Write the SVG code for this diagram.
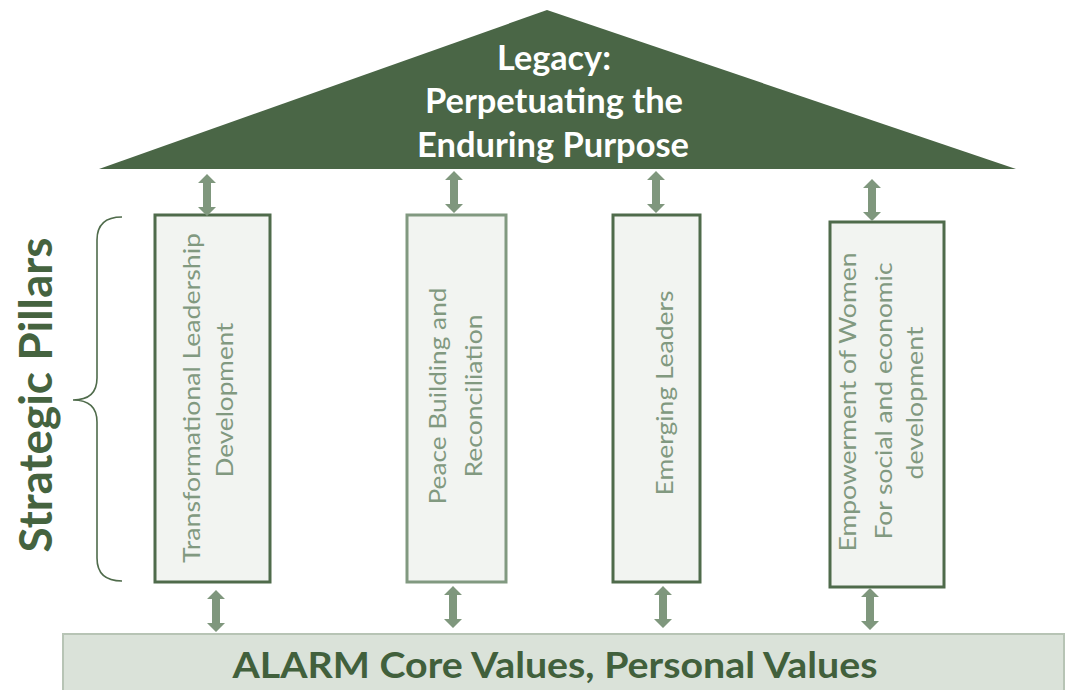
<svg xmlns="http://www.w3.org/2000/svg" width="1072" height="690" viewBox="0 0 1072 690">
  <style>
    .roof { fill: #4a6646; }
    .roof-text { font-family: Lato, "Open Sans", sans-serif; font-weight: bold; font-size: 35px; fill: #ffffff; text-anchor: middle; }
    .pillar { fill: #f2f4f1; stroke-width: 3; }
    .dark { stroke: #4f6b4b; }
    .light { stroke: #819980; }
    .pillar-text { font-family: Lato, "Open Sans", sans-serif; font-size: 24px; fill: #819980; text-anchor: middle; }
    .base { fill: #dae2d9; stroke: #b7c4b5; stroke-width: 2; }
    .base-text { font-family: Lato, "Open Sans", sans-serif; font-weight: bold; font-size: 37px; fill: #41603c; text-anchor: middle; }
    .side-text { font-family: Lato, "Open Sans", sans-serif; font-weight: bold; font-size: 45px; fill: #45633f; text-anchor: middle; }
    .brace { fill: none; stroke: #4f6b4b; stroke-width: 1.6; }
    .arrow { fill: #7f977d; }
  </style>
  <defs>
    <!-- two-headed vertical arrow, 42 px long, centred on x = 0 -->
    <path id="dbl" d="M0,0 L9,9 L4,9 L4,33 L9,33 L0,42 L-9,33 L-4,33 L-4,9 L-9,9 Z"/>
  </defs>

  <rect width="1072" height="690" fill="#ffffff"/>

  <!-- roof -->
  <g id="legacy">
    <polygon class="roof" points="547,10 1016,169 99,169"/>
    <text class="roof-text" x="554" y="70" textLength="114" lengthAdjust="spacingAndGlyphs">Legacy:</text>
    <text class="roof-text" x="554" y="113" textLength="258" lengthAdjust="spacingAndGlyphs">Perpetuating the</text>
    <text class="roof-text" x="553" y="157" textLength="272" lengthAdjust="spacingAndGlyphs">Enduring Purpose</text>
  </g>

  <!-- side label with brace -->
  <g id="strategic-pillars">
    <text class="side-text" x="52" y="395" transform="rotate(-90 52 395)" textLength="315" lengthAdjust="spacingAndGlyphs">Strategic Pillars</text>
    <path class="brace" d="M122,217 Q97,217 97,240 L97,378 Q97,400 73,400 Q97,400 97,422 L97,558 Q97,581 122,581"/>
  </g>

  <!-- pillars -->
  <g id="pillar-leadership">
    <rect class="pillar dark" x="155" y="215" width="115" height="367"/>
    <text class="pillar-text" x="200" y="398" transform="rotate(-90 200 398)" textLength="330" lengthAdjust="spacingAndGlyphs">Transformational Leadership</text>
    <text class="pillar-text" x="233" y="400" transform="rotate(-90 233 400)" textLength="155" lengthAdjust="spacingAndGlyphs">Development</text>
  </g>

  <g id="pillar-peace">
    <rect class="pillar light" x="407" y="215" width="99" height="367"/>
    <text class="pillar-text" x="446" y="396" transform="rotate(-90 446 396)" textLength="217" lengthAdjust="spacingAndGlyphs">Peace Building and</text>
    <text class="pillar-text" x="482" y="396" transform="rotate(-90 482 396)" textLength="163" lengthAdjust="spacingAndGlyphs">Reconciliation</text>
  </g>

  <g id="pillar-emerging">
    <rect class="pillar dark" x="613" y="215" width="87" height="367"/>
    <text class="pillar-text" x="673" y="393" transform="rotate(-90 673 393)" textLength="205" lengthAdjust="spacingAndGlyphs">Emerging Leaders</text>
  </g>

  <g id="pillar-women">
    <rect class="pillar dark" x="830" y="222" width="114" height="365"/>
    <text class="pillar-text" x="856" y="402" transform="rotate(-90 856 402)" textLength="299" lengthAdjust="spacingAndGlyphs">Empowerment of Women</text>
    <text class="pillar-text" x="892" y="401" transform="rotate(-90 892 401)" textLength="277" lengthAdjust="spacingAndGlyphs">For social and economic</text>
    <text class="pillar-text" x="923" y="403" transform="rotate(-90 923 403)" textLength="153" lengthAdjust="spacingAndGlyphs">development</text>
  </g>

  <!-- foundation -->
  <g id="core-values">
    <rect class="base" x="63" y="634" width="1001" height="60"/>
    <text class="base-text" x="555" y="678" textLength="645" lengthAdjust="spacingAndGlyphs">ALARM Core Values, Personal Values</text>
  </g>

  <!-- connectors between roof, pillars and foundation -->
  <g id="connectors" class="arrow">
    <use href="#dbl" transform="translate(207,174)"/>
    <use href="#dbl" transform="translate(454,171)"/>
    <use href="#dbl" transform="translate(656,171)"/>
    <use href="#dbl" transform="translate(872,179)"/>
    <use href="#dbl" transform="translate(216,590)"/>
    <use href="#dbl" transform="translate(453,586)"/>
    <use href="#dbl" transform="translate(663,586)"/>
    <use href="#dbl" transform="translate(870,588)"/>
  </g>
</svg>
